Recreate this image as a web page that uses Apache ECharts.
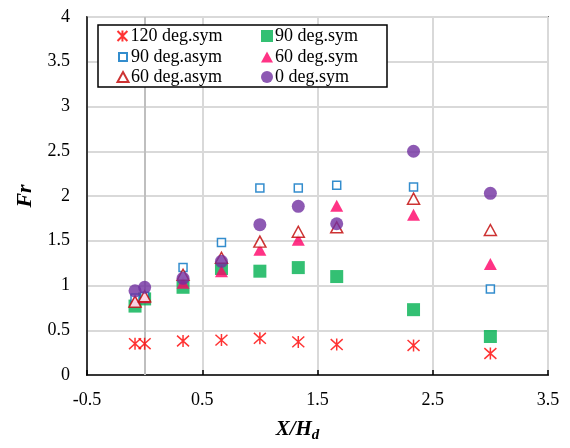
<!DOCTYPE html>
<html>
<head>
<meta charset="utf-8">
<script src="https://cdn.jsdelivr.net/npm/echarts@6/dist/echarts.min.js"></script>
<style>
  html, body { margin: 0; padding: 0; background: #fff; }
  #chart { width: 570px; height: 448px; }
</style>
</head>
<body>
<div id="chart"></div>
<script>
// Distance from the dam, X/Hd
const xPositions = [-0.0833, 0, 0.3333, 0.6667, 1, 1.3333, 1.6667, 2.3333, 3];

// Froude number for each configuration
const fr120Sym  = [0.35, 0.35, 0.38, 0.39, 0.41, 0.37, 0.34, 0.33, 0.24];
const fr90Sym   = [0.77, 0.85, 0.98, 1.19, 1.16, 1.20, 1.10, 0.73, 0.43];
const fr90Asym  = [0.86, 0.88, 1.20, 1.48, 2.09, 2.09, 2.12, 2.10, 0.96];
const fr60Sym   = [0.82, 0.87, 1.03, 1.16, 1.40, 1.51, 1.89, 1.79, 1.24];
const fr60Asym  = [0.82, 0.88, 1.12, 1.31, 1.49, 1.60, 1.65, 1.97, 1.62];
const fr0Sym    = [0.94, 0.98, 1.08, 1.27, 1.68, 1.885, 1.69, 2.50, 2.03];

const seriesNames = ['120 deg.sym', '90 deg.sym', '90 deg.asym', '60 deg.sym', '60 deg.asym', '0 deg.sym'];

// position of the dam crest line
const damX = 0;

const pairs = ys => xPositions.map((x, i) => [x, ys[i]]);

const FONT = 'Liberation Serif, Times New Roman, serif';
const STAR = 'path://M5,0L5,10M0.5,0.5L9.5,9.5M0.5,9.5L9.5,0.5';

// one legend entry per series: [name, icon width, icon height, column, row]
const legendLayout = [
  ['120 deg.sym', 11, 11, 0, 0],
  ['90 deg.asym',  8,  8, 0, 1],
  ['60 deg.asym', 11, 10, 0, 2],
  ['90 deg.sym',  12, 12, 1, 0],
  ['60 deg.sym',  12, 11, 1, 1],
  ['0 deg.sym',   12, 12, 1, 2]
];
const legendIconCenterX = [122, 267];
const legendRowCenterY = [36, 57, 77];

const legends = legendLayout.map(([name, w, h, col, row]) => ({
  data: [name],
  orient: 'vertical',
  left: legendIconCenterX[col] - w / 2,
  top: legendRowCenterY[row] - 10,
  padding: 0,
  itemWidth: w,
  itemHeight: h,
  z: 10,
  textStyle: {
    fontFamily: FONT, fontSize: 18, color: '#000', lineHeight: 20,
    padding: [0, 0, 0, 8 - w / 2 - 5]
  }
}));

const chart = echarts.init(document.getElementById('chart'));

chart.setOption({
  animation: false,
  backgroundColor: '#fff',
  textStyle: { fontFamily: FONT, color: '#000' },
  grid: {
    left: 87, right: 22, top: 17, bottom: 65,
    show: true, borderColor: '#000', borderWidth: 1.5, backgroundColor: 'transparent'
  },
  xAxis: {
    type: 'value', min: -0.5, max: 3.5, interval: 1,
    axisLine: { onZero: false, lineStyle: { color: '#000', width: 1.5 } },
    axisTick: { inside: true, length: 5, lineStyle: { color: '#000', width: 1.5 } },
    axisLabel: { fontFamily: FONT, fontSize: 18, color: '#000', margin: 16 },
    splitLine: { show: true, lineStyle: { color: '#d9d9d9', width: 2 } },
    name: '{a|X/H}{b|d}',
    nameLocation: 'middle',
    nameGap: 41,
    nameTextStyle: {
      padding: [0, 40, 0, 0],
      rich: {
        a: { fontFamily: FONT, fontSize: 21, fontWeight: 'bold', fontStyle: 'italic', color: '#000' },
        b: { fontFamily: FONT, fontSize: 15, fontWeight: 'bold', fontStyle: 'italic', color: '#000', padding: [12, 0, 0, 0] }
      }
    }
  },
  yAxis: {
    type: 'value', min: 0, max: 4, interval: 0.5, position: 'left',
    axisLine: { show: true, onZero: false, lineStyle: { color: '#000', width: 1.5 } },
    axisTick: { show: false },
    axisLabel: { fontFamily: FONT, fontSize: 18, color: '#000', margin: 17 },
    splitLine: { show: true, lineStyle: { color: '#d9d9d9', width: 2 } },
    name: 'Fr',
    nameLocation: 'middle',
    nameGap: 51,
    nameRotate: 90,
    nameTextStyle: { fontFamily: FONT, fontSize: 22, fontWeight: 'bold', fontStyle: 'italic', color: '#000' }
  },
  legend: legends,
  graphic: [
    {
      type: 'rect', z: 8,
      shape: { x: 98, y: 25, width: 289, height: 62 },
      style: { fill: '#fff', stroke: '#000', lineWidth: 1.5 }
    }
  ],
  series: [
    {
      // vertical reference line at the dam crest, drawn beneath the markers
      type: 'line', data: [], z: 1, silent: true,
      markLine: {
        z: 1, silent: true, symbol: 'none', animation: false,
        label: { show: false },
        lineStyle: { color: '#bfbfbf', width: 2, type: 'solid' },
        data: [{ xAxis: damX }]
      }
    },
    {
      name: seriesNames[0], type: 'scatter', data: pairs(fr120Sym),
      symbol: STAR, symbolSize: 12,
      itemStyle: { color: 'rgba(0,0,0,0)', borderColor: '#ff0000', borderWidth: 1.5 }
    },
    {
      name: seriesNames[1], type: 'scatter', data: pairs(fr90Sym),
      symbol: 'rect', symbolSize: 13,
      itemStyle: { color: '#00b050' }
    },
    {
      name: seriesNames[2], type: 'scatter', data: pairs(fr90Asym),
      symbol: 'rect', symbolSize: 8,
      itemStyle: { color: '#fff', borderColor: '#0070c0', borderWidth: 1.5 }
    },
    {
      name: seriesNames[3], type: 'scatter', data: pairs(fr60Sym),
      symbol: 'triangle', symbolSize: [13, 12],
      itemStyle: { color: '#ff0066' }
    },
    {
      name: seriesNames[4], type: 'scatter', data: pairs(fr60Asym),
      symbol: 'triangle', symbolSize: [12, 11],
      itemStyle: { color: '#fff', borderColor: '#c00000', borderWidth: 1.5 }
    },
    {
      name: seriesNames[5], type: 'scatter', data: pairs(fr0Sym),
      symbol: 'circle', symbolSize: 13,
      itemStyle: { color: '#7030a0' }
    }
  ]
});
</script>
</body>
</html>
